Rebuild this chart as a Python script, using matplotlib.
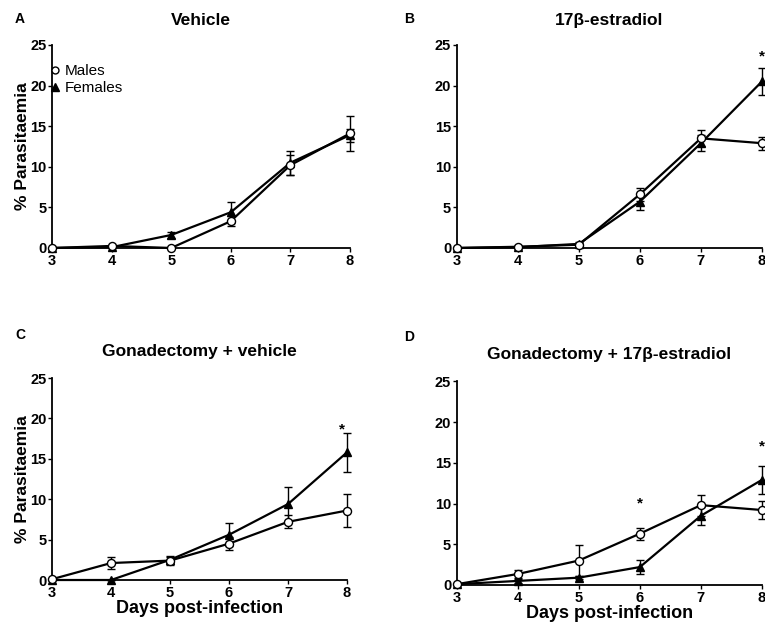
import matplotlib
matplotlib.use("Agg")
import matplotlib.pyplot as plt
from matplotlib.lines import Line2D

plt.rcParams['font.family'] = ['Liberation Sans', 'DejaVu Sans']

days = [3, 4, 5, 6, 7, 8]

# Panel A: Vehicle
a_male = [0.0, 0.25, 0.0, 3.3, 10.2, 14.1]
a_male_err = [0.0, 0.1, 0.0, 0.6, 1.2, 2.1]
a_female = [0.0, 0.1, 1.6, 4.4, 10.5, 13.9]
a_female_err = [0.0, 0.1, 0.4, 1.3, 1.5, 0.8]

# Panel B: 17beta-estradiol
b_male = [0.0, 0.15, 0.4, 6.6, 13.5, 12.9]
b_male_err = [0.0, 0.1, 0.2, 0.8, 1.0, 0.8]
b_female = [0.0, 0.1, 0.5, 5.7, 12.9, 20.5]
b_female_err = [0.0, 0.1, 0.2, 1.0, 1.0, 1.7]

# Panel C: Gonadectomy + vehicle
c_male = [0.1, 2.1, 2.4, 4.5, 7.2, 8.6]
c_male_err = [0.0, 0.7, 0.5, 0.8, 0.8, 2.1]
c_female = [0.0, 0.0, 2.5, 5.6, 9.4, 15.8]
c_female_err = [0.0, 0.0, 0.5, 1.4, 2.1, 2.4]

# Panel D: Gonadectomy + 17beta-estradiol
d_male = [0.1, 1.35, 3.0, 6.3, 9.8, 9.2]
d_male_err = [0.0, 0.5, 1.9, 0.75, 1.3, 1.1]
d_female = [0.1, 0.5, 0.9, 2.2, 8.5, 12.9]
d_female_err = [0.0, 0.2, 0.2, 0.85, 1.1, 1.7]

titles = ["Vehicle", "17\u03b2-estradiol", "Gonadectomy + vehicle", "Gonadectomy + 17\u03b2-estradiol"]
letters = ["A", "B", "C", "D"]
stars = [[], [(8, 23.6)], [(7.92, 18.6)], [(6, 10.0), (8, 17.0)]]
yticks = [0, 5, 10, 15, 20, 25]

fig = plt.figure(figsize=(7.65, 6.24), dpi=100)
rects = [
    [0.068, 0.6026, 0.3895, 0.3254],
    [0.597, 0.6026, 0.399, 0.3254],
    [0.068, 0.0705, 0.3856, 0.3237],
    [0.597, 0.0625, 0.399, 0.3265],
]
data = [
    (a_male, a_male_err, a_female, a_female_err),
    (b_male, b_male_err, b_female, b_female_err),
    (c_male, c_male_err, c_female, c_female_err),
    (d_male, d_male_err, d_female, d_female_err),
]

for i, (rect, (m, me, f, fe)) in enumerate(zip(rects, data)):
    ax = fig.add_axes(rect)
    ax.errorbar(days, f, yerr=fe, color='black', lw=1.6, marker='^', ms=6,
                mfc='black', mec='black', capsize=3, elinewidth=1.0, capthick=1.0,
                zorder=3, clip_on=False)
    ax.errorbar(days, m, yerr=me, color='black', lw=1.6, marker='o', ms=5.8,
                mfc='white', mec='black', mew=1.0, capsize=3, elinewidth=1.0, capthick=1.0,
                zorder=4, clip_on=False)
    ax.set_xlim(3, 8)
    ax.set_ylim(0, 25)
    ax.set_xticks(days)
    ax.set_yticks(yticks)
    for s in ['top', 'right']:
        ax.spines[s].set_visible(False)
    for s in ['left', 'bottom']:
        ax.spines[s].set_linewidth(1.3)
    ax.tick_params(axis='both', direction='out', length=3, width=1.0, labelsize=10.5, pad=1)
    for lab in ax.get_xticklabels() + ax.get_yticklabels():
        lab.set_fontweight('bold')
    ax.set_title(titles[i], fontsize=12.5, fontweight='bold', pad=14 if i < 2 else 16)
    if i in (0, 2):
        ax.set_ylabel('% Parasitaemia', fontsize=12.5, fontweight='bold', labelpad=0)
    if i in (2, 3):
        ax.set_xlabel('Days post-infection', fontsize=13, fontweight='bold', labelpad=0)
    for (sx, sy) in stars[i]:
        ax.text(sx, sy, '*', ha='center', va='center', fontsize=11, fontweight='bold')
    if i == 0:
        handles = [
            Line2D([], [], ls='none', marker='o', ms=5, mfc='white', mec='black', mew=1.0),
            Line2D([], [], ls='none', marker='^', ms=6, mfc='black', mec='black'),
        ]
        ax.legend(handles, ['Males', 'Females'], loc='upper left', bbox_to_anchor=(-0.025, 0.935),
                  frameon=False, fontsize=11, handlelength=0.6, handletextpad=0.3,
                  labelspacing=0.2, borderaxespad=0)

label_pos = [(0.026, 0.97), (0.535, 0.97), (0.026, 0.463), (0.535, 0.46)]
for lt, (lx, ly) in zip(letters, label_pos):
    fig.text(lx, ly, lt, fontsize=10, fontweight='bold', ha='center', va='center')

fig.savefig('out.png', dpi=100)
